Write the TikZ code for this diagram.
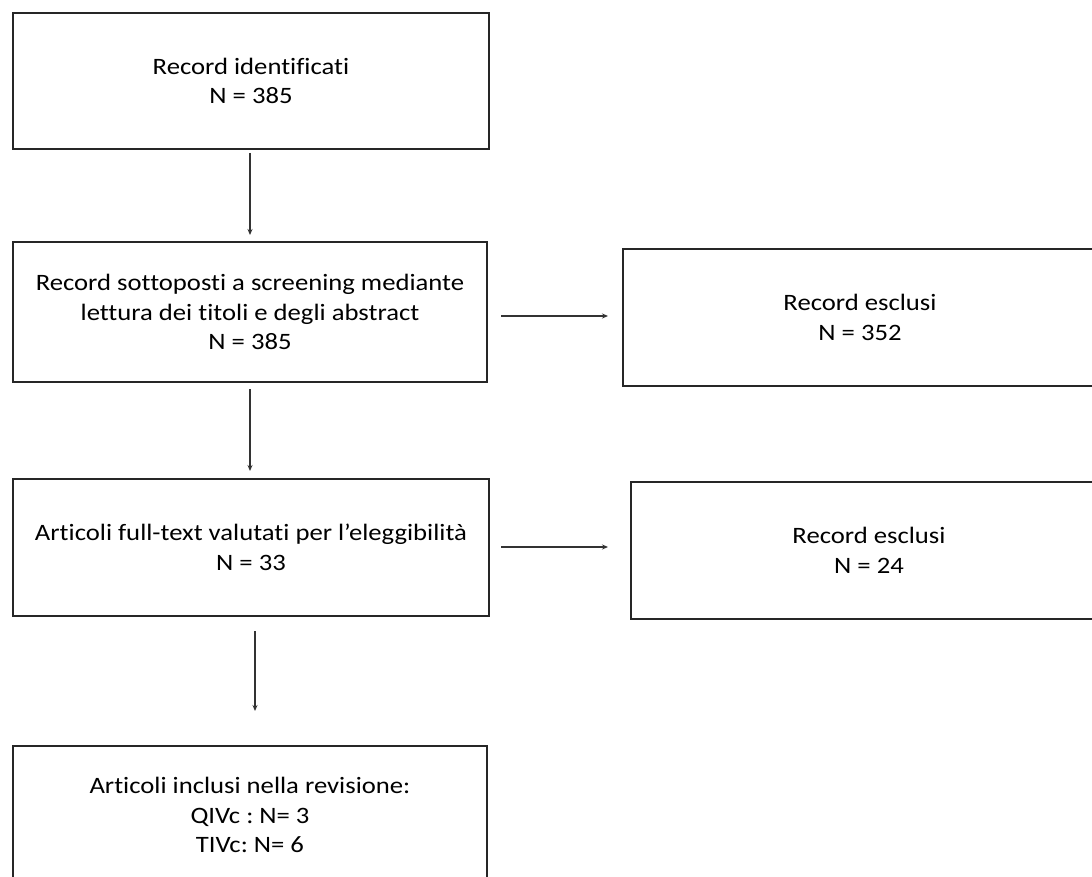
\documentclass[tikz,border=0pt]{standalone}
\usepackage{fontspec}
\setmainfont[Ligatures=NoCommon,FakeStretch=1.135]{Carlito}
\usetikzlibrary{arrows.meta}
\frenchspacing
\begin{document}
\begin{tikzpicture}[x=1pt,y=-1pt,
  txt/.style={align=center, font=\fontsize{23.5}{29.5}\selectfont, text=black},
  box/.style={draw=black!85, line width=1.3pt, rectangle, inner sep=0pt, txt},
  conn/.style={draw=black!80, line width=1.1pt, -{Stealth[length=6pt,width=5pt]}}]
\useasboundingbox (0,0) rectangle (1092,877);
\clip (0,0) rectangle (1092,877);
\node[box, minimum width=476pt, minimum height=136pt] (b1) at (251,81) {Record identificati\\N = 385};
\node[box, minimum width=474pt, minimum height=140pt] (b2) at (250,312) {Record sottoposti a screening mediante\\lettura dei titoli e degli abstract\\N = 385};
\node[box, minimum width=476pt, minimum height=137pt] (b3) at (251,547.5) {Articoli full-text valutati per l’eleggibilità\\N = 33};
\node[box, minimum width=474pt, minimum height=170pt] (b4) at (250,831) {};
\node[txt] (t4) at (250,815) {Articoli inclusi nella revisione:\\QIVc : N= 3\\TIVc: N= 6};
\node[box, minimum width=474pt, minimum height=137pt] (r1) at (860,317.5) {Record esclusi\\N = 352};
\node[box, minimum width=476pt, minimum height=137pt] (r2) at (869,550.5) {Record esclusi\\N = 24};
\coordinate (a1s) at (250,153); \coordinate (a1e) at (250,235);
\coordinate (a2s) at (250,389); \coordinate (a2e) at (250,471);
\coordinate (a3s) at (255,631); \coordinate (a3e) at (255,711);
\coordinate (a4s) at (501,316); \coordinate (a4e) at (608,316);
\coordinate (a5s) at (501,547); \coordinate (a5e) at (608,547);
\draw[conn] (a1s) -- (a1e);
\draw[conn] (a2s) -- (a2e);
\draw[conn] (a3s) -- (a3e);
\draw[conn] (a4s) -- (a4e);
\draw[conn] (a5s) -- (a5e);
\end{tikzpicture}
\end{document}
